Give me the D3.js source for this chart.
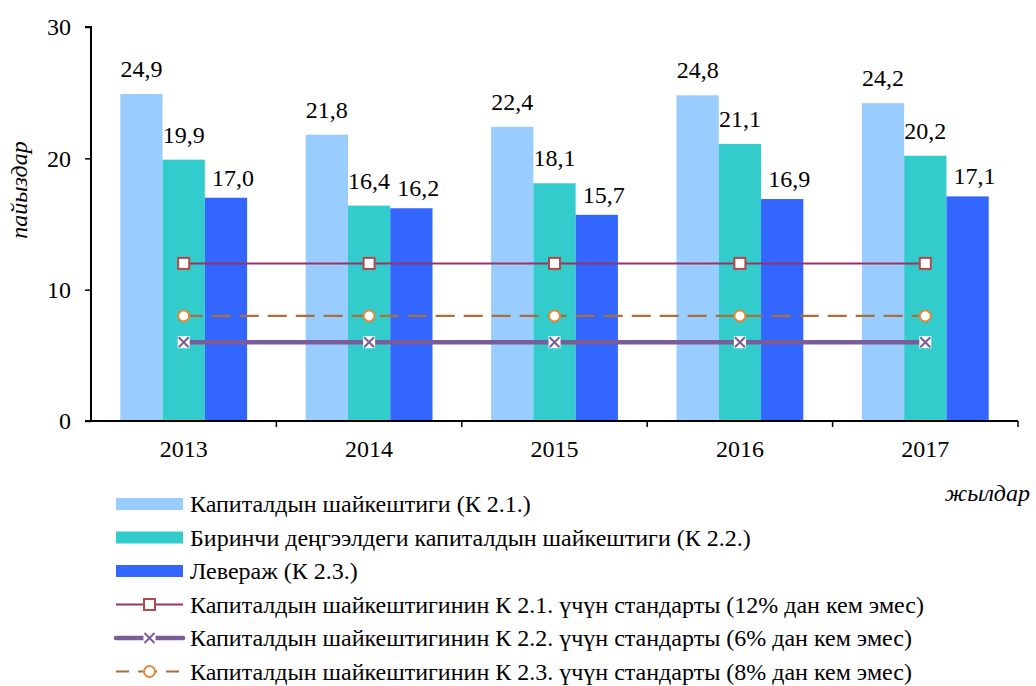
<!DOCTYPE html>
<html><head><meta charset="utf-8">
<script src="https://cdn.jsdelivr.net/npm/d3@7"></script>
<style>
body{margin:0;background:#fff;}
svg text{font-family:"Liberation Serif",serif;}
</style></head>
<body><svg id="c" width="1036" height="686" font-family="Liberation Serif"></svg>
<script>
const years = ["2013","2014","2015","2016","2017"];
const k21 = [24.9, 21.8, 22.4, 24.8, 24.2];
const k22 = [19.9, 16.4, 18.1, 21.1, 20.2];
const k23 = [17.0, 16.2, 15.7, 16.9, 17.1];
const std12 = [12, 12, 12, 12, 12];
const std6 = [6, 6, 6, 6, 6];
const std8 = [8, 8, 8, 8, 8];
const yTicks = [0, 10, 20, 30];
const barNames = ["Капиталдын шайкештиги (К 2.1.)","Биринчи деңгээлдеги капиталдын шайкештиги (К 2.2.)","Левераж (К 2.3.)"];
const lineNames = ["Капиталдын шайкештигинин К 2.1. үчүн стандарты (12% дан кем эмес)","Капиталдын шайкештигинин К 2.2. үчүн стандарты (6% дан кем эмес)","Капиталдын шайкештигинин К 2.3. үчүн стандарты (8% дан кем эмес)"];
const yTitle = "пайыздар", xTitle = "жылдар";

const FONT = "Liberation Serif";
const FS = 24;
const barColors = ["#99CCFF","#33CCCC","#3366FF"];
const labelDx = [0, 0, 7], labelDy = [-17, -17, -12];
const svg = d3.select("#c");
const L = 91, R = 1018, T = 27, B = 421;
const x0 = d3.scaleBand().domain(years).range([L, R]).padding(0);
const series = [k21, k22, k23];
const x1 = d3.scaleBand().domain([0,1,2]).range([x0.bandwidth()*0.158, x0.bandwidth()*0.842]).padding(0);
const y = d3.scaleLinear().domain([0, 30]).range([B, T]);

// bars
series.forEach((s, si) => {
  svg.append("g").selectAll("rect").data(s).join("rect")
    .attr("x", (d,i) => x0(years[i]) + x1(si))
    .attr("y", d => y(d))
    .attr("width", x1.bandwidth())
    .attr("height", d => y(0) - y(d))
    .attr("fill", barColors[si]);
  svg.append("g").selectAll("text").data(s).join("text")
    .attr("x", (d,i) => x0(years[i]) + x1(si) + x1.bandwidth()/2 + labelDx[si])
    .attr("y", d => y(d) + labelDy[si])
    .attr("text-anchor","middle")
    .attr("font-size", FS).attr("font-family", FONT)
    .attr("fill","#000")
    .text(d => d.toFixed(1).replace(".", ","));
});

// axes
const yAxis = svg.append("g").attr("transform", `translate(${L},0)`)
  .call(d3.axisLeft(y).tickValues(yTicks).tickSize(6).tickPadding(14).tickFormat(d3.format("d")));
yAxis.attr("font-family", FONT);
yAxis.select(".domain").attr("stroke","#000").attr("stroke-width",2).attr("d", `M-6,${T}H0V${B}`);
yAxis.selectAll(".tick line").attr("stroke","#000").attr("stroke-width",1.5);
yAxis.selectAll("text").attr("font-size",FS).attr("font-family",FONT).attr("fill","#000");

const xb = d3.scaleLinear().domain([0,5]).range([L,R]);
const xAxisG = svg.append("g").attr("transform", `translate(0,${B})`);
xAxisG.append("line").attr("x1", L-6).attr("x2", R).attr("stroke","#000").attr("stroke-width",2);
xAxisG.selectAll("line.t").data(d3.range(1,6)).join("line").attr("class","t")
  .attr("x1", d => xb(d)).attr("x2", d => xb(d)).attr("y1",0).attr("y2",6)
  .attr("stroke","#000").attr("stroke-width",1.5);
xAxisG.selectAll("text").data(years).join("text")
  .attr("x", d => x0(d) + x0.bandwidth()/2).attr("y", 36)
  .attr("text-anchor","middle").attr("font-size",FS).attr("font-family",FONT).text(d => d);

// lines
const cx = i => x0(years[i]) + x0.bandwidth()/2;
const lineGen = d3.line().x((d,i) => cx(i)).y(d => y(d));
svg.append("path").datum(std12).attr("d", lineGen).attr("fill","none").attr("stroke","#993366").attr("stroke-width",2);
svg.append("path").datum(std8).attr("d", lineGen).attr("fill","none").attr("stroke","#A86F3A").attr("stroke-width",2.2).attr("stroke-dasharray","19,9");
svg.append("path").datum(std6).attr("d", lineGen).attr("fill","none").attr("stroke","#7A5C99").attr("stroke-width",4.5);

function sqMarker(g, cxv, cyv){
  g.append("rect").attr("x",cxv-5.5).attr("y",cyv-5.5).attr("width",11).attr("height",11)
   .attr("fill","#fff").attr("stroke","#B04A4A").attr("stroke-width",2);
}
function circMarker(g, cxv, cyv){
  g.append("circle").attr("cx",cxv).attr("cy",cyv).attr("r",5.5).attr("fill","#fff").attr("stroke","#E5873A").attr("stroke-width",2);
}
function xMarker(g, cxv, cyv, box){
  if (box) g.append("rect").attr("x",cxv-6).attr("y",cyv-6).attr("width",12).attr("height",12).attr("fill","#fff");
  g.append("path").attr("d",`M${cxv-5},${cyv-5}L${cxv+5},${cyv+5}M${cxv-5},${cyv+5}L${cxv+5},${cyv-5}`)
   .attr("stroke","#7A5C99").attr("stroke-width",2);
}
const mg = svg.append("g");
std12.forEach((d,i) => sqMarker(mg, cx(i), y(d)));
std8.forEach((d,i) => circMarker(mg, cx(i), y(d)));
std6.forEach((d,i) => xMarker(mg, cx(i), y(d), true));

// axis titles
svg.append("text").attr("transform","translate(27,190) rotate(-90)").attr("text-anchor","middle")
  .attr("font-size",FS).attr("font-family",FONT).attr("font-style","italic").text(yTitle);
svg.append("text").attr("x",1030).attr("y",501).attr("text-anchor","end")
  .attr("font-size",FS).attr("font-family",FONT).attr("font-style","italic").text(xTitle);

// legend
const lg = svg.append("g");
const rowY = [504, 537.5, 571, 604.5, 638, 671.5];
barNames.forEach((n,i) => {
  lg.append("rect").attr("x",116).attr("y",rowY[i]-6).attr("width",67).attr("height",12).attr("fill",barColors[i]);
  lg.append("text").attr("x",190).attr("y",rowY[i]+8).attr("font-size",FS).attr("font-family",FONT).text(n);
});
const ly = rowY.slice(3);
lg.append("line").attr("x1",116).attr("x2",183).attr("y1",ly[0]).attr("y2",ly[0]).attr("stroke","#993366").attr("stroke-width",2);
sqMarker(lg, 149.5, ly[0]);
lg.append("line").attr("x1",116).attr("x2",183).attr("y1",ly[1]).attr("y2",ly[1]).attr("stroke","#7A5C99").attr("stroke-width",4.5).attr("stroke-linecap","round");
xMarker(lg, 149.5, ly[1], true);
lg.append("line").attr("x1",116).attr("x2",183).attr("y1",ly[2]).attr("y2",ly[2]).attr("stroke","#A86F3A").attr("stroke-width",2.2).attr("stroke-dasharray","13,9,19,9");
circMarker(lg, 149.5, ly[2]);
lineNames.forEach((n,i) => {
  lg.append("text").attr("x",190).attr("y",ly[i]+8).attr("font-size",FS).attr("font-family",FONT).text(n);
});
</script></body></html>
